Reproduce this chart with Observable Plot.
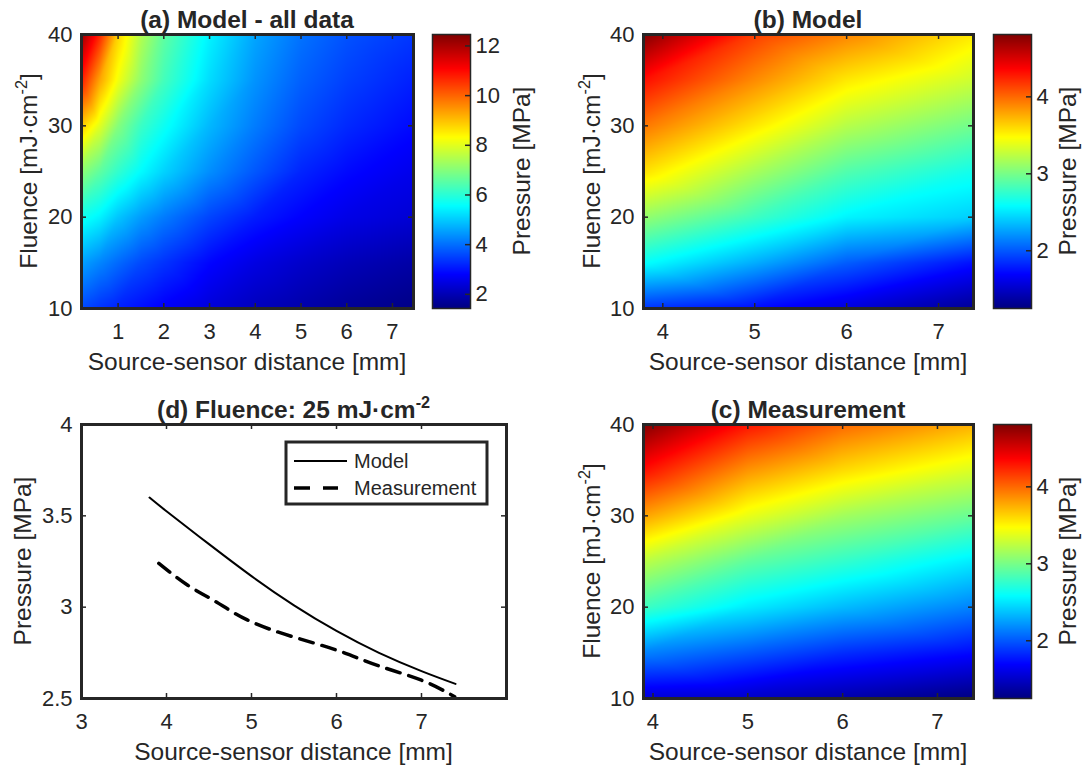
<!DOCTYPE html>
<html><head><meta charset="utf-8">
<script src="https://cdn.jsdelivr.net/npm/d3@7"></script>
<script src="https://cdn.jsdelivr.net/npm/@observablehq/plot@0.6"></script>
<style>
html,body{margin:0;padding:0;background:#fff;}
#root{position:relative;width:1089px;height:772px;overflow:hidden;background:#fff;}
#root svg{position:absolute;}
</style></head><body><div id="root"></div>
<script>
// ---------------- data ----------------
const fluence = [10, 15, 20, 25, 30, 35, 40];           // rows of every heatmap grid
const distA = [0.2, 0.6, 1, 1.5, 2, 3, 4, 5, 6, 7.46];  // (a) columns
const pressA = [
  [3.6, 3.35, 3.15, 2.95, 2.75, 2.4, 2.1, 1.9, 1.7, 1.5],
  [4.55, 4.25, 3.95, 3.6, 3.35, 2.85, 2.5, 2.25, 2.05, 1.85],
  [5.75, 5.45, 4.95, 4.5, 4.15, 3.55, 3.1, 2.8, 2.55, 2.35],
  [7.1, 6.6, 6.1, 5.55, 5.1, 4.35, 3.75, 3.2, 2.9, 2.6],
  [8.9, 8.0, 7.0, 6.2, 5.7, 4.8, 4.15, 3.6, 3.25, 2.9],
  [10.8, 9.3, 8.2, 7.1, 6.3, 5.2, 4.4, 3.85, 3.5, 3.15],
  [12.2, 10.7, 8.8, 7.5, 6.6, 5.45, 4.6, 4.05, 3.7, 3.4]
];
const distB = [3.79, 5, 6, 7.38];                         // (b) columns
const pressB = [
  [1.87, 1.73, 1.57, 1.32],
  [2.60, 2.30, 2.02, 1.75],
  [3.10, 2.80, 2.55, 2.42],
  [3.58, 3.17, 2.87, 2.65],
  [3.95, 3.55, 3.22, 2.98],
  [4.32, 3.88, 3.55, 3.30],
  [4.80, 4.15, 3.90, 3.55]
];
const distC = [3.9, 5, 6, 7.38];                          // (c) columns
const pressC = [
  [1.55, 1.50, 1.40, 1.25],
  [2.15, 2.00, 1.85, 1.72],
  [2.80, 2.52, 2.35, 2.15],
  [3.24, 2.92, 2.76, 2.52],
  [3.80, 3.40, 3.15, 2.95],
  [4.32, 3.85, 3.60, 3.35],
  [4.80, 4.30, 4.00, 3.75]
];
// (d) lines at fluence 25 mJ/cm2
const modelDist = [3.8, 4.0, 4.5, 5.0, 5.5, 6.0, 6.5, 7.0, 7.4];
const modelPress = [3.60, 3.525, 3.345, 3.17, 3.01, 2.87, 2.75, 2.65, 2.58];
const measDist = [3.91, 4.25, 4.58, 4.95, 5.47, 6.0, 6.49, 7.0, 7.39];
const measPress = [3.24, 3.12, 3.03, 2.93, 2.84, 2.765, 2.68, 2.60, 2.51];
// colour ranges and ticks
const cbRangeA = [1.43, 12.46];
const cbRangeBC = [1.25, 4.81];
const ticksFluence = [10, 20, 30, 40];
const ticksDistA = [1, 2, 3, 4, 5, 6, 7];
const ticksDistBC = [4, 5, 6, 7];
const ticksCbA = [2, 4, 6, 8, 10, 12];
const ticksCbBC = [2, 3, 4];
const ticksDistD = [3, 4, 5, 6, 7];
const ticksPressD = [2.5, 3, 3.5, 4];
const dRangeX = [3, 8];
const dRangeY = [2.5, 4];

// ---------------- helpers ----------------
const INK = "#262626";
const FONT = '"Liberation Sans", Arial, Helvetica, sans-serif';
const baseStyle = {fontFamily: FONT, fontSize: "22px", color: INK, background: "transparent", overflow: "visible"};
function jet(t) {
  const c = v => Math.max(0, Math.min(1, v));
  const r = c(1.5 - Math.abs(4 * t - 3)), g = c(1.5 - Math.abs(4 * t - 2)), b = c(1.5 - Math.abs(4 * t - 1));
  return `rgb(${Math.round(r * 255)},${Math.round(g * 255)},${Math.round(b * 255)})`;
}
const root = document.getElementById("root");
function place(svg, left, top) { svg.style.left = left + "px"; svg.style.top = top + "px"; root.appendChild(svg); }

function frameTicks(xt, yt, W, H, yFmt) {
  return [
    Plot.tickX(xt, {x: d => d, insetTop: H - 5, stroke: INK, strokeWidth: 1.5}),
    Plot.tickX(xt, {x: d => d, insetBottom: H - 5, stroke: INK, strokeWidth: 1.5}),
    Plot.tickY(yt, {y: d => d, insetLeft: W - 5, stroke: INK, strokeWidth: 1.5}),
    Plot.tickY(yt, {y: d => d, insetRight: W - 5, stroke: INK, strokeWidth: 1.5}),
    Plot.frame({stroke: INK, strokeWidth: 3}),
    Plot.axisX({ticks: xt, tickSize: 0, tickPadding: 15, label: null, tickFormat: d => String(d)}),
    Plot.axisY({ticks: yt, tickSize: 0, tickPadding: 9, label: null, tickFormat: yFmt || (d => String(d))})
  ];
}

function heatmap(dist, press, xt, cbRange, g) {
  const pts = fluence.flatMap((f, i) => dist.map((d, j) => ({d, f, p: press[i][j]})));
  const W = g.width - g.ml - g.mr, H = g.height - g.mt - g.mb;
  const svg = Plot.plot({
    width: g.width, height: g.height, marginTop: g.mt, marginBottom: g.mb, marginLeft: g.ml, marginRight: g.mr,
    style: baseStyle,
    x: {domain: [dist[0], dist[dist.length - 1]]},
    y: {domain: [fluence[0], fluence[fluence.length - 1]]},
    color: {type: "linear", domain: cbRange, interpolate: jet, clamp: true},
    marks: [
      Plot.raster(pts, {x: "d", y: "f", fill: "p", interpolate: "barycentric",
        x1: dist[0], x2: dist[dist.length - 1], y1: fluence[0], y2: fluence[fluence.length - 1]}),
      ...frameTicks(xt, ticksFluence, W, H)
    ]
  });
  place(svg, g.left, g.top);
}

function colorbar(cbRange, cbTicks, g) {
  const W = g.width - g.ml - g.mr;
  const svg = Plot.plot({
    width: g.width, height: g.height, marginTop: g.mt, marginBottom: g.mb, marginLeft: g.ml, marginRight: g.mr,
    style: baseStyle,
    x: {domain: [0, 1], axis: null},
    y: {domain: cbRange},
    color: {type: "linear", domain: cbRange, interpolate: jet, clamp: true},
    marks: [
      Plot.raster({x1: 0, x2: 1, y1: cbRange[0], y2: cbRange[1], fill: (x, y) => y}),
      Plot.tickY(cbTicks, {y: d => d, insetLeft: W - 5, stroke: INK, strokeWidth: 1.5}),
      Plot.frame({stroke: INK, strokeWidth: 1.5}),
      Plot.axisY({ticks: cbTicks, anchor: "right", tickSize: 0, tickPadding: 5, label: null, tickFormat: d => String(d)})
    ]
  });
  place(svg, g.left, g.top);
}

// ---------------- panels ----------------
heatmap(distA, pressA, ticksDistA, cbRangeA, {left: 0, top: 0, width: 420, height: 390, mt: 34, mb: 82, ml: 81, mr: 7});
colorbar(cbRangeA, ticksCbA, {left: 420, top: 0, width: 125, height: 390, mt: 34, mb: 82, ml: 12, mr: 75});
heatmap(distB, pressB, ticksDistBC, cbRangeBC, {left: 560, top: 0, width: 420, height: 390, mt: 34, mb: 82, ml: 83, mr: 7});
colorbar(cbRangeBC, ticksCbBC, {left: 980, top: 0, width: 109, height: 390, mt: 34, mb: 82, ml: 13, mr: 58});
heatmap(distC, pressC, ticksDistBC, cbRangeBC, {left: 560, top: 390, width: 420, height: 382, mt: 34, mb: 74, ml: 83, mr: 7});
colorbar(cbRangeBC, ticksCbBC, {left: 980, top: 390, width: 109, height: 382, mt: 34, mb: 74, ml: 13, mr: 58});

// (d) line chart
{
  const g = {width: 520, height: 382, mt: 34, mb: 74, ml: 81, mr: 14};
  const W = g.width - g.ml - g.mr, H = g.height - g.mt - g.mb;
  const model = modelDist.map((d, i) => ({d, p: modelPress[i]}));
  const meas = measDist.map((d, i) => ({d, p: measPress[i]}));
  const svg = Plot.plot({
    width: g.width, height: g.height, marginTop: g.mt, marginBottom: g.mb, marginLeft: g.ml, marginRight: g.mr,
    style: baseStyle,
    x: {domain: dRangeX},
    y: {domain: dRangeY},
    marks: [
      Plot.line(model, {x: "d", y: "p", stroke: "#000", strokeWidth: 2, curve: "natural"}),
      Plot.line(meas, {x: "d", y: "p", stroke: "#000", strokeWidth: 3.5, strokeDasharray: "14,9", curve: "natural"}),
      ...frameTicks(ticksDistD, ticksPressD, W, H)
    ]
  });
  place(svg, 0, 390);
}

// ---------------- overlay text (titles, labels, legend) ----------------
const ov = d3.select(root).append("svg").attr("width", 1089).attr("height", 772)
  .style("left", "0px").style("top", "0px").style("font-family", FONT).style("overflow", "visible");
function addText(x, y, parts, {size = 24.5, weight = "normal", rotate = 0, anchor = "middle"} = {}) {
  const t = ov.append("text").attr("transform", `translate(${x},${y}) rotate(${rotate})`)
    .attr("text-anchor", anchor).attr("font-size", size).attr("font-weight", weight).attr("fill", INK);
  let shifted = false;
  for (const p of parts) {
    if (typeof p === "string") {
      const s = t.append("tspan").text(p);
      if (shifted) { s.attr("dy", 0.42 * size); shifted = false; }
    } else {
      t.append("tspan").attr("dy", -0.42 * size).attr("font-size", size * 0.66).text(p.sup);
      shifted = true;
    }
  }
  return t;
}
const xLabel = "Source-sensor distance [mm]";
const fLabel = ["Fluence [mJ·cm", {sup: "-2"}, "]"];
const pLabel = "Pressure [MPa]";

addText(247, 28, ["(a) Model - all data"], {weight: "bold"});
addText(808, 28, ["(b) Model"], {weight: "bold"});
addText(293.5, 418, ["(d) Fluence: 25 mJ·cm", {sup: "-2"}], {weight: "bold"});
addText(808, 418, ["(c) Measurement"], {weight: "bold"});

addText(247, 370, [xLabel]);
addText(808, 370, [xLabel]);
addText(293.5, 760, [xLabel]);
addText(808, 760, [xLabel]);

addText(37, 171, fLabel, {rotate: -90});
addText(600, 171, fLabel, {rotate: -90});
addText(600, 561, fLabel, {rotate: -90});
addText(31, 561, [pLabel], {rotate: -90});

addText(530, 171, [pLabel], {rotate: -90});
addText(1076, 171, [pLabel], {rotate: -90});
addText(1076, 561, [pLabel], {rotate: -90});

// legend of (d)
ov.append("rect").attr("x", 286).attr("y", 442).attr("width", 201).attr("height", 62)
  .attr("fill", "#fff").attr("stroke", INK).attr("stroke-width", 3);
ov.append("line").attr("x1", 294).attr("x2", 347).attr("y1", 461).attr("y2", 461).attr("stroke", "#000").attr("stroke-width", 2);
ov.append("line").attr("x1", 294).attr("x2", 338).attr("y1", 488).attr("y2", 488).attr("stroke", "#000").attr("stroke-width", 3.5).attr("stroke-dasharray", "16,13");
addText(354, 468, ["Model"], {size: 20, anchor: "start"});
addText(354, 495, ["Measurement"], {size: 20, anchor: "start"});
</script></body></html>
